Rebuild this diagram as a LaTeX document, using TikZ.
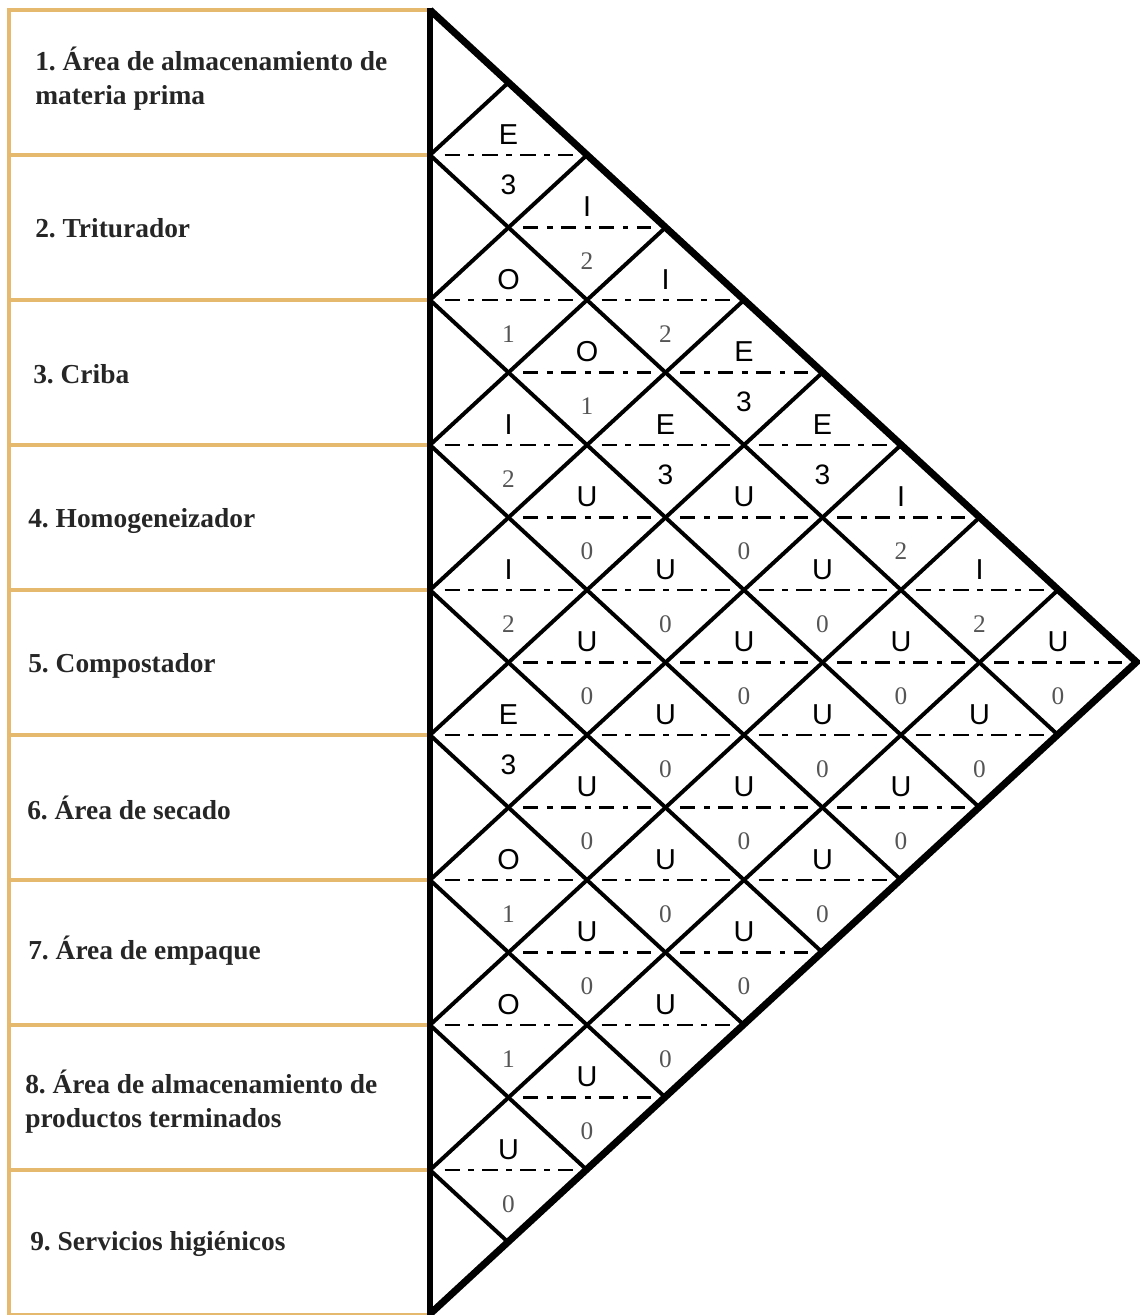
\documentclass[tikz,border=0pt]{standalone}
\usepackage{fontspec}
\setmainfont{Liberation Serif}
\newfontfamily\codefont{Liberation Sans}
\usetikzlibrary{calc}
\definecolor{rowtan}{HTML}{E6BA6E}
\definecolor{scoregray}{HTML}{555555}
\frenchspacing
\tikzset{
  rowbox/.style={draw=rowtan, line width=2.6pt},
  rowlabel/.style={anchor=base west, align=left, inner sep=0pt, text=black!85,
                   font=\fontsize{19.5}{23.5}\selectfont\bfseries},
  gridline/.style={line width=2.8pt, black},
  edgeline/.style={line width=5pt, black, line join=miter},
  leftline/.style={line width=4.5pt, black},
  midline/.style={line width=1.7pt, dash pattern=on 11pt off 6pt on 4pt off 6pt},
  relcode/.style={anchor=base, inner sep=0pt, font=\codefont\fontsize{20.5}{20.5}\selectfont},
  scorethree/.style={anchor=base, inner sep=0pt, font=\codefont\fontsize{20}{20}\selectfont},
  score/.style={anchor=base, inner sep=0pt, text=scoregray, font=\fontsize{18}{18}\selectfont}}

\begin{document}
\begin{tikzpicture}[x=0.025cm, y=-0.025cm]
  \useasboundingbox (0,0) rectangle (1139,1315);
  % the nine areas
  \foreach \k in {1,...,9}
    \draw[rowbox] (9,10+145*\k-145) rectangle (430,10+145*\k);
  \foreach \k/\lx/\ly/\txt in {
      1/35/104/{1. Área de almacenamiento de\\materia prima},
      2/35/237/{2. Triturador},
      3/33/383/{3. Criba},
      4/28/527/{4. Homogeneizador},
      5/28/672/{5. Compostador},
      6/27/819/{6. Área de secado},
      7/28/959/{7. Área de empaque},
      8/25/1127/{8. Área de almacenamiento de\\productos terminados},
      9/30/1250/{9. Servicios higiénicos}}
    \node[rowlabel] (lab\k) at (\lx,\ly) {\txt};
  % the relationship cells
  \foreach \i/\j/\code/\score in {
      1/2/E/3, 1/3/I/2, 1/4/I/2, 1/5/E/3, 1/6/E/3, 1/7/I/2, 1/8/I/2, 1/9/U/0,
      2/3/O/1, 2/4/O/1, 2/5/E/3, 2/6/U/0, 2/7/U/0, 2/8/U/0, 2/9/U/0,
      3/4/I/2, 3/5/U/0, 3/6/U/0, 3/7/U/0, 3/8/U/0, 3/9/U/0,
      4/5/I/2, 4/6/U/0, 4/7/U/0, 4/8/U/0, 4/9/U/0,
      5/6/E/3, 5/7/U/0, 5/8/U/0, 5/9/U/0,
      6/7/O/1, 6/8/U/0, 6/9/U/0,
      7/8/O/1, 7/9/U/0,
      8/9/U/0} {
    \pgfmathsetmacro{\cellx}{430+(\j-\i)*78.5}
    \pgfmathsetmacro{\celly}{10+(\i+\j-1)*72.5}
    \draw[midline] (\cellx-64,\celly) -- (\cellx+64,\celly);
    \node[relcode] (rel-\i-\j) at (\cellx,\celly-11) {\code};
    \ifnum\score=3
      \node[scorethree] (val-\i-\j) at (\cellx,\celly+39) {\score};
    \else
      \node[score] (val-\i-\j) at (\cellx,\celly+42) {\score};
    \fi
  }
  % the lattice
  \foreach \k in {1,...,8} {
    \draw[gridline] (430,10+145*\k) -- ++({(9-\k)*78.5},{(9-\k)*72.5});
    \draw[gridline] (430,10+145*\k) -- ++({\k*78.5},{-\k*72.5});
  }
  % the triangle
  \coordinate (top) at (430,10);
  \coordinate (apex) at (1136.5,662);
  \coordinate (bottom) at (430,1314);
  \draw[edgeline] (top) -- (apex) -- (bottom);
  \draw[leftline] (430,8) -- (430,1315);
\end{tikzpicture}
\end{document}
